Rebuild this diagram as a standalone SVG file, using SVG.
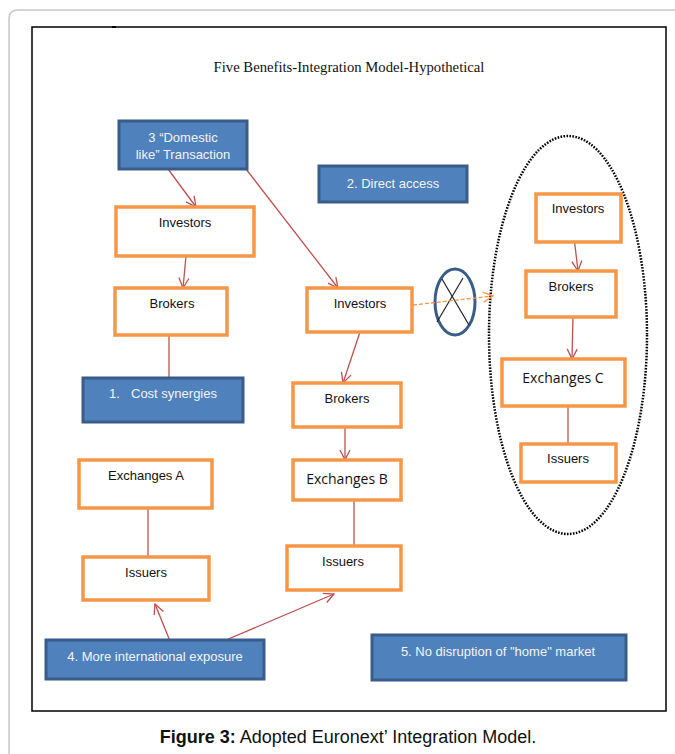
<svg xmlns="http://www.w3.org/2000/svg" width="675" height="754" viewBox="0 0 675 754">
<defs>
<style>
.frame{fill:none;stroke:#c8c8c8;stroke-width:1.5}
.inner{fill:#fff;stroke:#000;stroke-width:1.5}
.title{font-family:"Liberation Serif",serif;font-size:14.7px;fill:#111}
.ob{fill:#fff;stroke:#F79646;stroke-width:3.5}
.bb{fill:#4F81BD;stroke:#385D8A;stroke-width:3}
.ot{font-family:"Liberation Sans",Arial,sans-serif;font-size:13px;fill:#111;text-anchor:middle}
.ot2{font-family:"Open Sans","Liberation Sans",sans-serif;font-size:14px;fill:#111;text-anchor:middle}
.bt{font-family:"Liberation Sans",Arial,sans-serif;font-size:13px;fill:#f4f4f4;text-anchor:middle}
.bs{font-family:"Liberation Sans",Arial,sans-serif;font-size:13px;fill:#f4f4f4;text-anchor:start}
.c{stroke:#C0504D;stroke-width:1.3;fill:none}
.cap{font-family:"Liberation Sans",Arial,sans-serif;font-size:18px;fill:#111;text-anchor:middle}
</style>
<marker id="ar" viewBox="0 0 12 12" refX="11" refY="6" markerWidth="12" markerHeight="12" markerUnits="userSpaceOnUse" orient="auto">
<path d="M1,1 L11,6 L1,11" fill="none" stroke="#C0504D" stroke-width="1.3"/>
</marker>
<marker id="ao" viewBox="0 0 12 12" refX="11" refY="6" markerWidth="12" markerHeight="12" markerUnits="userSpaceOnUse" orient="auto">
<path d="M1,1 L11,6 L1,11" fill="none" stroke="#F79646" stroke-width="1.3"/>
</marker>
</defs>
<rect width="675" height="754" fill="#fff"/>
<path class="frame" d="M680,10 H18 Q9,10 9,19 V760"/>
<rect class="inner" x="32" y="27" width="634" height="684"/>
<line x1="112" y1="27" x2="116" y2="27" stroke="#000" stroke-width="2"/>
<text class="title" x="349" y="72" text-anchor="middle">Five Benefits-Integration Model-Hypothetical</text>

<ellipse cx="568" cy="335" rx="79" ry="199" fill="none" stroke="#000" stroke-width="2.5" stroke-dasharray="1.6 1.4"/>

<g id="crossed">
<ellipse cx="455" cy="302" rx="20" ry="33" fill="none" stroke="#385D8A" stroke-width="3"/>
<line x1="442" y1="279" x2="469" y2="325" stroke="#222" stroke-width="1.2"/>
<line x1="463" y1="278" x2="437" y2="322" stroke="#222" stroke-width="1.2"/>
</g>

<g id="connectors">
<line class="c" x1="168" y1="169" x2="196" y2="207" marker-end="url(#ar)"/>
<line class="c" x1="246" y1="169" x2="338" y2="288" marker-end="url(#ar)"/>
<line class="c" x1="186" y1="256" x2="183" y2="288" marker-end="url(#ar)"/>
<line class="c" x1="169" y1="335" x2="169" y2="378"/>
<line class="c" x1="360" y1="332" x2="343" y2="383" marker-end="url(#ar)"/>
<line class="c" x1="345" y1="427" x2="345" y2="460" marker-end="url(#ar)"/>
<line class="c" x1="354" y1="500" x2="354" y2="546"/>
<line class="c" x1="148" y1="508" x2="148" y2="557"/>
<line class="c" x1="172" y1="646" x2="155" y2="604" marker-end="url(#ar)"/>
<line class="c" x1="212" y1="646" x2="334" y2="594" marker-end="url(#ar)"/>
<line class="c" x1="574" y1="237" x2="578" y2="271" marker-end="url(#ar)"/>
<line class="c" x1="573" y1="315" x2="572" y2="359" marker-end="url(#ar)"/>
<line class="c" x1="568" y1="406" x2="568" y2="444"/>
<line x1="413" y1="305" x2="493" y2="296" stroke="#F79646" stroke-width="1.3" stroke-dasharray="4 2" marker-end="url(#ao)"/>
</g>

<g id="b3"><rect class="bb" x="119" y="121" width="128" height="48"/>
<text class="bt" x="183" y="142">3 “Domestic</text><text class="bt" x="183" y="159">like” Transaction</text></g>
<g id="b2"><rect class="bb" x="319" y="166" width="148" height="36"/>
<text class="bt" x="393" y="188">2. Direct access</text></g>
<g id="b1"><rect class="bb" x="83" y="378" width="160" height="44"/>
<text class="bs" x="109" y="398">1.<tspan x="131">Cost synergies</tspan></text></g>
<g id="b4"><rect class="bb" x="46" y="640" width="218" height="39"/>
<text class="bt" x="155" y="661">4. More international exposure</text></g>
<g id="b5"><rect class="bb" x="372" y="635" width="254" height="45"/>
<text class="bt" x="498" y="656">5. No disruption of "home" market</text></g>

<g id="invA"><rect class="ob" x="116" y="207" width="138" height="49"/><text class="ot" x="185" y="227">Investors</text></g>
<g id="brkA"><rect class="ob" x="115" y="288" width="112" height="47"/><text class="ot" x="172" y="308">Brokers</text></g>
<g id="invB"><rect class="ob" x="307" y="288" width="105" height="44"/><text class="ot" x="360" y="308">Investors</text></g>
<g id="brkB"><rect class="ob" x="293" y="383" width="108" height="44"/><text class="ot" x="347" y="403">Brokers</text></g>
<g id="exB"><rect class="ob" x="293" y="460" width="108" height="40"/><text class="ot2" x="347" y="484">Exchanges B</text></g>
<g id="exA"><rect class="ob" x="79" y="460" width="133" height="48"/><text class="ot" x="146" y="480">Exchanges A</text></g>
<g id="issA"><rect class="ob" x="83" y="557" width="126" height="43"/><text class="ot" x="146" y="577">Issuers</text></g>
<g id="issB"><rect class="ob" x="287" y="546" width="114" height="44"/><text class="ot" x="343" y="566">Issuers</text></g>
<g id="invC"><rect class="ob" x="536" y="194" width="85" height="48"/><text class="ot" x="578" y="213">Investors</text></g>
<g id="brkC"><rect class="ob" x="526" y="271" width="90" height="46"/><text class="ot" x="571" y="291">Brokers</text></g>
<g id="exC"><rect class="ob" x="502" y="359" width="123" height="47"/><text class="ot2" x="563" y="383">Exchanges C</text></g>
<g id="issC"><rect class="ob" x="521" y="444" width="95" height="38"/><text class="ot" x="568" y="463">Issuers</text></g>

<text class="cap" x="348" y="743"><tspan font-weight="bold">Figure 3:</tspan> Adopted Euronext’ Integration Model.</text>
</svg>
